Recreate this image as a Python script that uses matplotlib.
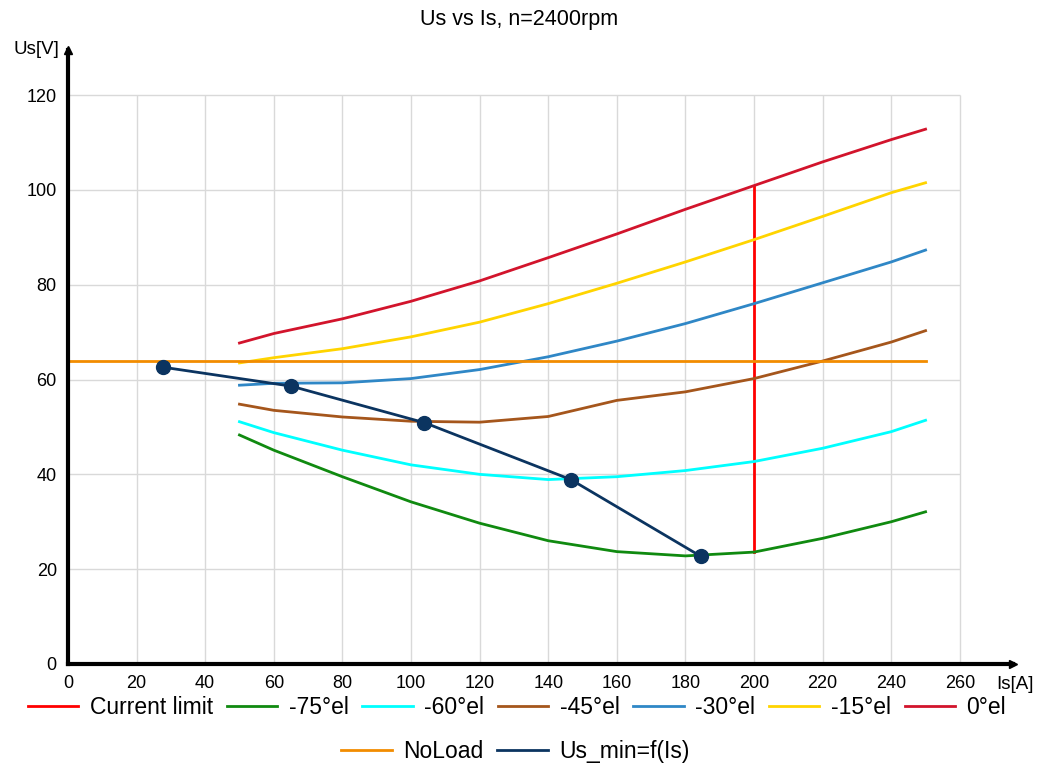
import matplotlib
matplotlib.use("Agg")
from matplotlib import pyplot as plt
from matplotlib.lines import Line2D

plt.rcParams['font.family'] = ['Liberation Sans', 'DejaVu Sans']

# Data
Is = [50, 60, 80, 100, 120, 140, 160, 180, 200, 220, 240, 250]
us_0 = [67.7, 69.7, 72.8, 76.5, 80.8, 85.7, 90.7, 95.9, 100.9, 105.9, 110.6, 112.8]
us_m15 = [63.5, 64.6, 66.5, 69.0, 72.1, 76.0, 80.3, 84.8, 89.5, 94.4, 99.4, 101.5]
us_m30 = [58.8, 59.2, 59.3, 60.2, 62.1, 64.8, 68.1, 71.8, 76.0, 80.4, 84.8, 87.3]
us_m45 = [54.8, 53.5, 52.1, 51.2, 51.0, 52.2, 55.6, 57.4, 60.2, 63.9, 67.9, 70.3]
us_m60 = [51.1, 48.8, 45.1, 42.0, 40.0, 38.9, 39.5, 40.8, 42.7, 45.5, 49.0, 51.4]
us_m75 = [48.3, 45.1, 39.5, 34.2, 29.7, 26.0, 23.7, 22.8, 23.6, 26.5, 30.0, 32.1]

noload_x = [0, 250]
noload_y = [64, 64]

limit_x = [200, 200]
limit_y = [23.6, 100.9]

usmin_x = [27.7, 65.1, 103.9, 146.6, 184.5]
usmin_y = [62.6, 58.6, 50.9, 38.9, 22.7]

xticks = list(range(0, 261, 20))
yticks = list(range(0, 121, 20))

fig = plt.figure(figsize=(10.39, 7.67), dpi=100)
ax = fig.add_axes([0.0654, 0.1343, 0.9096, 0.8005])
ax.set_xlim(0, 275.5)
ax.set_ylim(0, 129.5)

# Grid limited to the 0..260 x 0..120 box
ax.hlines(yticks[1:], 0, 260, colors='#d9d9d9', linewidth=1, zorder=0)
ax.vlines(xticks[1:], 0, 120, colors='#d9d9d9', linewidth=1, zorder=0)

lw = 2.0
h_lim, = ax.plot(limit_x, limit_y, color='#ff0000', lw=lw, label='Current limit')
h75, = ax.plot(Is, us_m75, color='#108a10', lw=lw, label='-75°el')
h60, = ax.plot(Is, us_m60, color='#00ffff', lw=lw, label='-60°el')
h45, = ax.plot(Is, us_m45, color='#a5561c', lw=lw, label='-45°el')
h30, = ax.plot(Is, us_m30, color='#2f87c6', lw=lw, label='-30°el')
h15, = ax.plot(Is, us_m15, color='#ffd400', lw=lw, label='-15°el')
h0, = ax.plot(Is, us_0, color='#d2142c', lw=lw, label='0°el')
hnl, = ax.plot(noload_x, noload_y, color='#f28c00', lw=lw, label='NoLoad')
ax.plot(usmin_x, usmin_y, color='#0b3460', lw=lw, marker='o', markersize=10)
hmin = Line2D([], [], color='#0b3460', lw=lw, label='Us_min=f(Is)')

# Axes with arrows
for s in ['top', 'right']:
    ax.spines[s].set_visible(False)
ax.spines['left'].set_linewidth(3)
ax.spines['bottom'].set_linewidth(3)
ax.plot(1, 0, '>k', transform=ax.transAxes, clip_on=False, markersize=6)
ax.plot(0, 1, '^k', transform=ax.transAxes, clip_on=False, markersize=6)

ax.set_xticks(xticks)
ax.set_yticks(yticks)
ax.tick_params(length=0, labelsize=13, pad=8)

fig.text(0.5, 0.975, 'Us vs Is, n=2400rpm', ha='center', va='center', fontsize=15.5)
fig.text(0.035, 0.935, 'Us[V]', ha='center', va='center', fontsize=13.5)
fig.text(0.977, 0.108, 'Is[A]', ha='center', va='center', fontsize=13.5)

fig.legend(handles=[h_lim, h75, h60, h45, h30, h15, h0], loc='center',
           bbox_to_anchor=(0.4976, 0.077), ncol=7, frameon=False,
           fontsize=16.5, handlelength=2.2, columnspacing=0.6, handletextpad=0.5)
fig.legend(handles=[hnl, hmin], loc='center', bbox_to_anchor=(0.496, 0.02),
           ncol=2, frameon=False, fontsize=16.5, handlelength=2.2,
           columnspacing=0.6, handletextpad=0.5)

fig.savefig('out.png', dpi=100)
